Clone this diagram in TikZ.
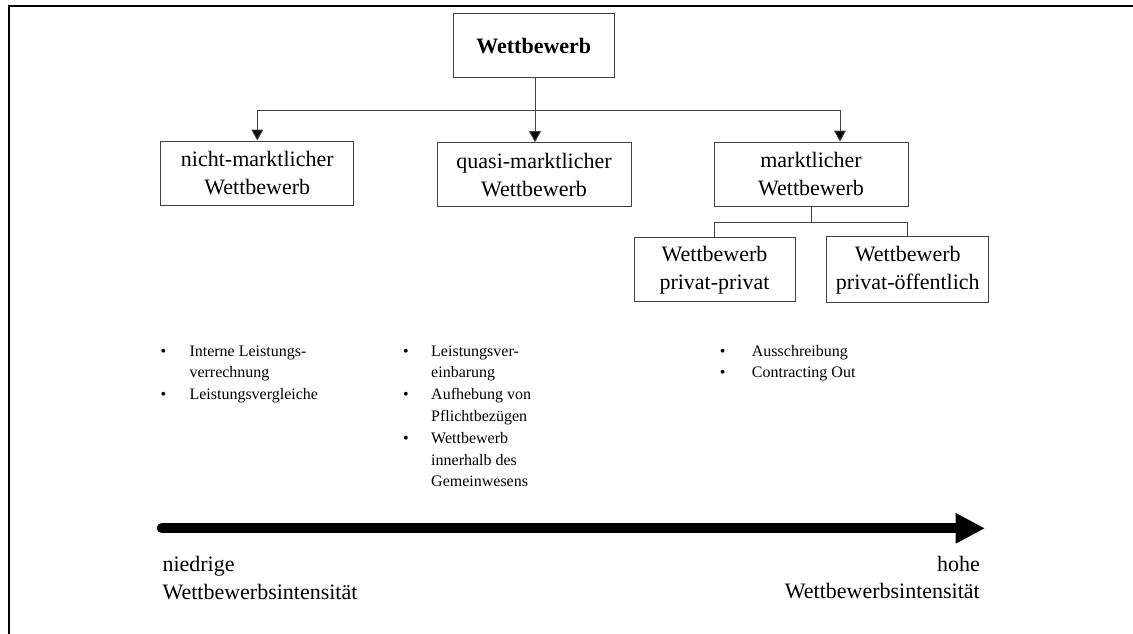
\documentclass[tikz,border=0pt]{standalone}
\usepackage{fontspec}
\setmainfont{Liberation Serif}
\usetikzlibrary{arrows.meta}

\newcommand{\boxfont}{\fontsize{22}{28}\selectfont}
\newcommand{\listfont}{\fontsize{16}{21.8}\selectfont}

\tikzset{
  box/.style={draw=black!75, line width=1pt, inner sep=0pt, align=center,
              font=\boxfont},
  link/.style={draw=black!75, line width=1pt},
  linkarrow/.style={link, -{Triangle[length=11pt,width=12pt,fill=black]}},
  item/.style={anchor=base west, inner sep=0pt, font=\listfont},
  dot/.style={anchor=base, inner sep=0pt, font=\listfont},
  axislabel/.style={anchor=base west, inner sep=0pt, font=\boxfont},
}

\begin{document}
\begin{tikzpicture}[x=1pt, y=-1pt]
\useasboundingbox (0,0) rectangle (1133,634);

% outer frame (open towards the right and bottom edge)
\coordinate (fbl) at (8.5,634);
\coordinate (ftl) at (8.5,6);
\coordinate (ftr) at (1133,6);
\draw[line width=2pt] (fbl) -- (ftl) -- (ftr);

% hierarchy boxes
\node[box, minimum width=160.5pt, minimum height=64.5pt] (top) at (533.75,45.75) {\textbf{Wettbewerb}};
\node[box, minimum width=193.3pt, minimum height=64pt] (left) at (257.3,173) {nicht-marktlicher\\Wettbewerb};
\node[box, minimum width=194pt, minimum height=64pt] (mid) at (534,174.7) {quasi-marktlicher\\Wettbewerb};
\node[box, minimum width=194pt, minimum height=64pt] (right) at (811,174) {marktlicher\\Wettbewerb};
\node[box, minimum width=161pt, minimum height=64.3pt] (sub1) at (714.5,269.8) {Wettbewerb\\privat-privat};
\node[box, minimum width=161.7pt, minimum height=66pt] (sub2) at (907.8,269.8) {Wettbewerb\\privat-öffentlich};

% connectors from the top box
\coordinate (barL) at (257.3,110);
\coordinate (barM) at (535,110);
\coordinate (barR) at (840,110);
\draw[link] (barL) -- (barR);
\draw[link] (top.south -| barM) -- (barM);
\draw[linkarrow] (barL) -- (left.north);
\draw[linkarrow] (barM) -- (barM |- mid.north);
\draw[linkarrow] (barR) -- (barR |- right.north);

% connectors below the market box
\coordinate (sj) at (811,222.7);
\draw[link] (right.south) -- (sj);
\draw[link] (sub1.north) -- (sub1.north |- sj) -- (sub2.north |- sj) -- (sub2.north);

% list: non-market instruments
\node[dot]  (d11) at (163.3,356)   {\textbullet};
\node[item] (t11) at (189.3,356)   {Interne Leistungs-};
\node[item] (t12) at (189.3,377.8) {verrechnung};
\node[dot]  (d12) at (163.3,399.6) {\textbullet};
\node[item] (t13) at (189.3,399.6) {Leistungsvergleiche};

% list: quasi-market instruments
\node[dot]  (d21) at (406,356)   {\textbullet};
\node[item] (t21) at (431,356)   {Leistungsver-};
\node[item] (t22) at (431,377.8) {einbarung};
\node[dot]  (d22) at (406,399.6) {\textbullet};
\node[item] (t23) at (431,399.6) {Aufhebung von};
\node[item] (t24) at (431,421.4) {Pflichtbezügen};
\node[dot]  (d23) at (406,443.2) {\textbullet};
\node[item] (t25) at (431,443.2) {Wettbewerb};
\node[item] (t26) at (431,465)   {innerhalb des};
\node[item] (t27) at (431,486.8) {Gemeinwesens};

% list: market instruments
\node[dot]  (d31) at (722.7,356)   {\textbullet};
\node[item] (t31) at (751.7,356)   {Ausschreibung};
\node[dot]  (d32) at (722.7,377.8) {\textbullet};
\node[item] (t32) at (751.7,377.8) {Contracting Out};

% intensity axis
\coordinate (lo) at (161.7,528.3);
\coordinate (hi) at (985,528.3);
\draw[line width=10pt, line cap=round, -{Triangle[length=29.3pt,width=28.4pt]}] (lo) -- (hi);

\node[axislabel] (lo1) at (162.3,571.7) {niedrige};
\node[axislabel] (lo2) at (162.3,599)   {Wettbewerbsintensität};
\node[axislabel, anchor=base east] (hi1) at (980,571)   {hohe};
\node[axislabel, anchor=base east] (hi2) at (980,598.3) {Wettbewerbsintensität};
\end{tikzpicture}
\end{document}
